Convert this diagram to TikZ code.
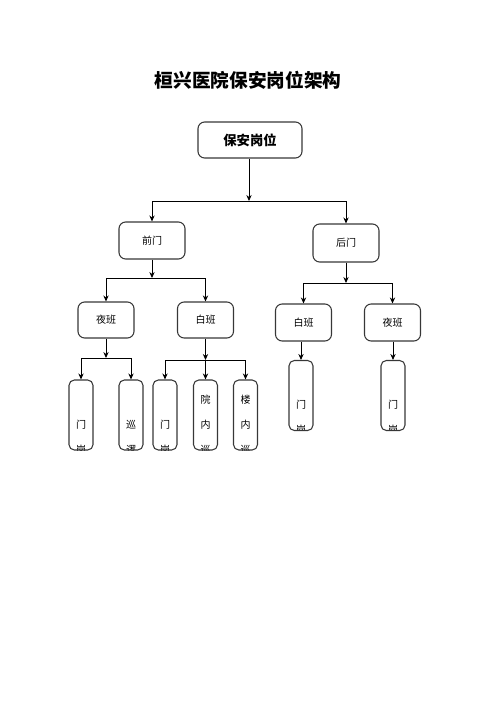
\documentclass[tikz,border=0pt]{standalone}
\usepackage{fontspec}
\newfontfamily\cjk{Noto Sans CJK SC}
\usetikzlibrary{arrows.meta,positioning}
\definecolor{boxline}{RGB}{55,55,55}

\begin{document}
\begin{tikzpicture}[x=0.75pt,y=-0.75pt,
  box/.style={rectangle,rounded corners=5pt,draw=boxline,line width=0.8pt,
              font=\cjk\fontsize{7.5}{9}\selectfont,inner sep=0pt},
  post/.style={rectangle,rounded corners=4pt,draw=boxline,line width=0.8pt,
               minimum width=18pt,minimum height=52.5pt,inner sep=0pt,
               path picture={\node[font=\cjk\fontsize{7.5}{18.75}\selectfont,align=center]
                 at ([yshift=-16.5pt]path picture bounding box.center) {#1};}},
  arr/.style={-{Stealth[length=4.5pt,width=4pt]},line width=0.7pt,black}]
\useasboundingbox (0,0) rectangle (496,702);

\node[font=\cjk\fontsize{14}{16}\selectfont\bfseries] (title) at (248,80) {桓兴医院保安岗位架构};

% top and gates
\node[box,minimum width=78pt,minimum height=27pt,font=\cjk\fontsize{10}{12}\selectfont\bfseries] (top) at (250,140) {保安岗位};
\node[box,minimum width=49.5pt,minimum height=27.75pt] (qm) at (152,240.5) {前门};
\node[box,minimum width=49.5pt,minimum height=28.5pt] (hm) at (346,243) {后门};

% shifts
\node[box,minimum width=42pt,minimum height=27pt] (qye) at (106,320) {夜班};
\node[box,minimum width=42pt,minimum height=27pt] (qbai) at (205.5,320) {白班};
\node[box,minimum width=42pt,minimum height=27.75pt] (hbai) at (303.5,322.5) {白班};
\node[box,minimum width=42pt,minimum height=27.75pt] (hye) at (392.5,322.5) {夜班};

% posts (text runs past the bottom edge)
\node[post={门\\岗}] (p1) at (81,415) {};
\node[post={巡\\逻}] (p2) at (131,415) {};
\node[post={门\\岗}] (p3) at (165,415) {};
\node[post={院\\内\\巡\\逻}] (p4) at (205.5,415) {};
\node[post={楼\\内\\巡\\逻}] (p5) at (245.5,415) {};
\node[post={门\\岗}] (p6) at (301,395.5) {};
\node[post={门\\岗}] (p7) at (393,395.5) {};

% junctions
\coordinate (j1) at (249,201);
\coordinate (j2) at (152,278);
\coordinate (j3) at (346,283);
\coordinate (j4) at (106,358);
\coordinate (j5) at (205.5,360);

\draw[arr] (top.south -| j1) -- (j1);
\draw[arr] (j1) -| (qm.north);
\draw[arr] (j1) -| (hm.north);
\draw[arr] (qm.south) -- (j2);
\draw[arr] (j2) -| (qye.north);
\draw[arr] (j2) -| (qbai.north);
\draw[arr] (hm.south) -- (j3);
\draw[arr] (j3) -| (hbai.north);
\draw[arr] (j3) -| (hye.north);
\draw[arr] (qye.south) -- (j4);
\draw[arr] (j4) -| (p1.north);
\draw[arr] (j4) -| (p2.north);
\draw[arr] (qbai.south) -- (j5);
\draw[arr] (j5) -| (p3.north);
\draw[arr] (j5) -| (p4.north);
\draw[arr] (j5) -| (p5.north);
\draw[arr] (hbai.south -| p6.north) -- (p6.north);
\draw[arr] (hye.south -| p7.north) -- (p7.north);
\end{tikzpicture}
\end{document}
